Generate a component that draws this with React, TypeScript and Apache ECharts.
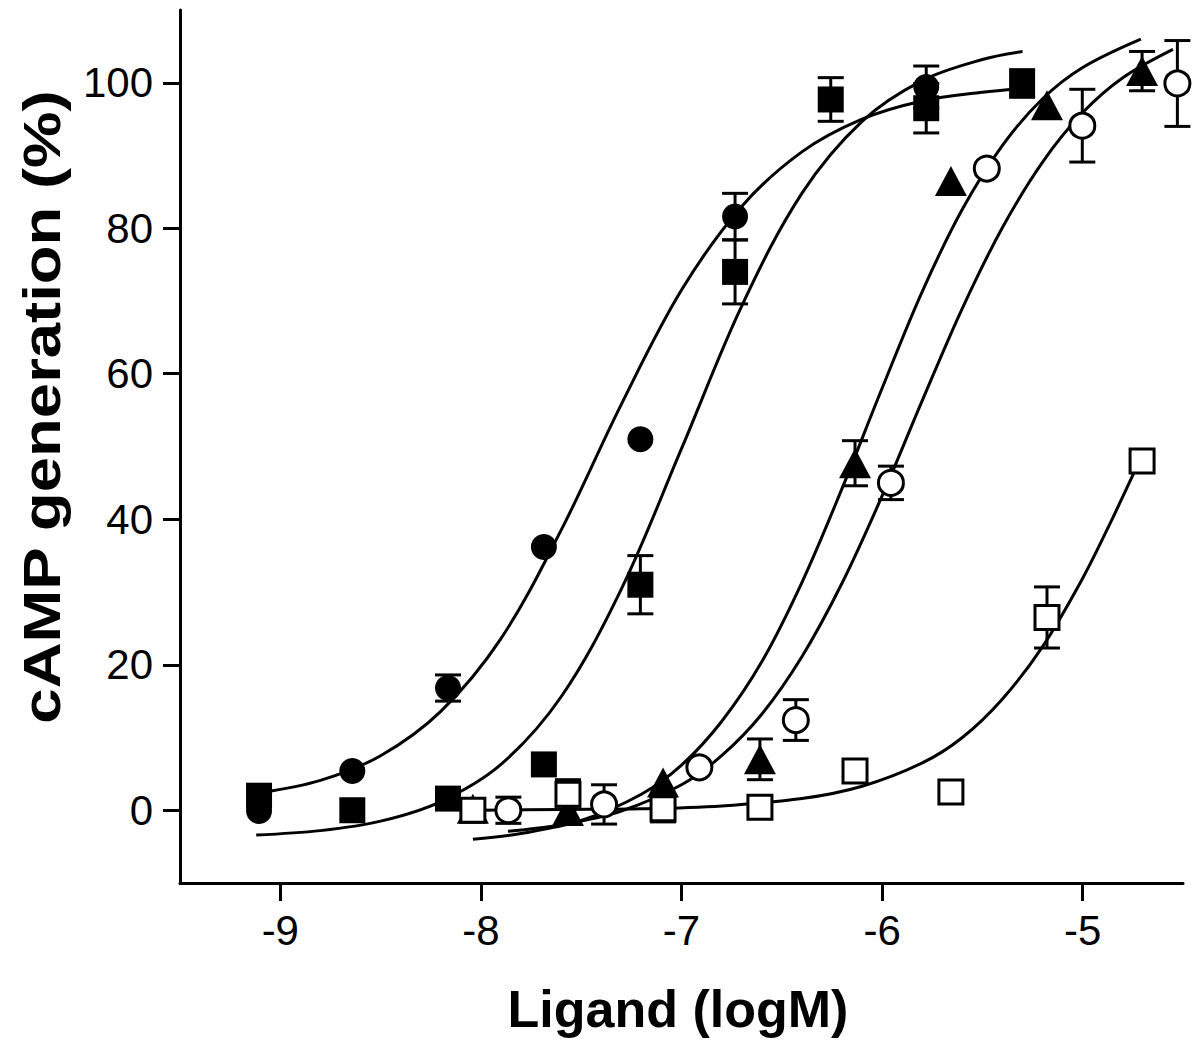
import React, { useEffect, useRef } from "react";
import * as echarts from "echarts";

// ---- Axis ticks ----
const xTicks = [-9, -8, -7, -6, -5];
const yTicks = [0, 20, 40, 60, 80, 100];

// ---- Data points (x: log M, y: % cAMP, err: SEM) ----
const filledCircleX = [-9.106, -8.641, -8.164, -7.686, -7.205, -6.733, -5.78];
const filledCircleY = [-0.1, 5.4, 16.8, 36.2, 51.0, 81.6, 99.4];
const filledCircleErr = [0, 0, 1.8, 0, 0, 3.2, 2.9];

const filledSquareX = [-9.106, -8.641, -8.164, -7.686, -7.205, -6.733, -6.256, -5.78, -5.302];
const filledSquareY = [2.0, 0.0, 1.6, 6.3, 31.0, 74.0, 97.7, 96.5, 99.9];
const filledSquareErr = [0, 0, 0, 0, 4.0, 4.4, 3.0, 3.4, 1.9];

const triangleX = [-8.04, -7.566, -7.092, -6.609, -6.135, -5.657, -5.178, -4.704];
const triangleY = [0.2, -0.1, 3.8, 7.0, 47.7, 86.5, 96.9, 101.6];
const triangleErr = [0, 0, 0, 2.8, 3.1, 0, 0, 2.7];

const openCircleX = [-7.863, -7.386, -6.911, -6.43, -5.956, -5.478, -5.002, -4.528];
const openCircleY = [0.0, 0.8, 5.9, 12.4, 45.0, 88.2, 94.1, 99.9];
const openCircleErr = [1.8, 2.7, 0, 2.8, 2.3, 0, 5.0, 5.9];

const openSquareX = [-8.04, -7.566, -7.092, -6.609, -6.135, -5.657, -5.178, -4.704];
const openSquareY = [0.0, 2.2, 0.2, 0.4, 5.4, 2.5, 26.5, 48.0];
const openSquareErr = [0, 2.0, 1.8, 0, 0, 0, 4.2, 0];

// ---- Fitted curves ----
const circleFitX = [-9.1, -8.8, -8.5, -8.2, -7.9, -7.6, -7.3, -7.0, -6.7, -6.4, -6.1, -5.8, -5.5, -5.3];
const circleFitY = [2.4, 4.1, 7.5, 13.6, 23.6, 38.5, 55.8, 71.5, 83.0, 90.5, 95.0, 97.5, 98.7, 99.2];

const squareFitX = [-9.12, -8.8, -8.5, -8.2, -7.9, -7.6, -7.3, -7.0, -6.7, -6.4, -6.1, -5.8, -5.5, -5.3];
const squareFitY = [-3.4, -2.8, -1.5, 1.2, 6.3, 15.6, 30.4, 49.7, 69.3, 84.8, 94.7, 100.3, 103.2, 104.3];

const triangleFitX = [-8.04, -7.8, -7.5, -7.2, -7.0, -6.8, -6.6, -6.4, -6.2, -6.0, -5.8, -5.6, -5.4, -5.2, -5.0, -4.71];
const triangleFitY = [-4.0, -3.2, -1.4, 2.2, 6.2, 12.2, 20.4, 31.3, 44.2, 58.0, 71.3, 82.6, 91.4, 97.8, 102.1, 106.0];

const openCircleFitX = [-7.865, -7.6, -7.3, -7.0, -6.8, -6.6, -6.4, -6.2, -6.0, -5.8, -5.6, -5.4, -5.2, -5.0, -4.8, -4.55];
const openCircleFitY = [-2.9, -2.0, -0.1, 3.5, 7.5, 13.2, 21.1, 31.2, 43.2, 56.3, 69.0, 80.1, 89.1, 95.9, 100.7, 104.6];

const openSquareFitX = [-8.04, -7.6, -7.2, -6.8, -6.4, -6.1, -5.8, -5.6, -5.4, -5.2, -5.0, -4.85, -4.704];
const openSquareFitY = [0.0, 0.1, 0.2, 0.6, 1.6, 3.3, 6.5, 10.0, 15.3, 22.5, 31.9, 40.2, 48.8];

const FONT = '"Liberation Sans", Arial, Helvetica, sans-serif';

const zip2 = (xs: number[], ys: number[]) => xs.map((x, i) => [x, ys[i]]);
const zip3 = (xs: number[], ys: number[], es: number[]) =>
  xs.map((x, i) => [x, ys[i], es[i]]).filter((d) => d[2] > 0);

function fitSeries(xs: number[], ys: number[]) {
  return {
    type: "line",
    data: zip2(xs, ys),
    smooth: 0.35,
    showSymbol: false,
    symbol: "none",
    silent: true,
    lineStyle: { color: "#000", width: 3 },
    z: 1,
  };
}

function errorSeries(xs: number[], ys: number[], es: number[]) {
  return {
    type: "custom",
    data: zip3(xs, ys, es),
    encode: { x: 0, y: 1 },
    z: 2,
    silent: true,
    renderItem: (params: any, api: any) => {
      const x = api.value(0);
      const y = api.value(1);
      const e = api.value(2);
      const top = api.coord([x, y + e]);
      const bot = api.coord([x, y - e]);
      const hw = 13;
      const style = { stroke: "#000", lineWidth: 3 };
      return {
        type: "group",
        children: [
          { type: "line", shape: { x1: top[0], y1: top[1], x2: bot[0], y2: bot[1] }, style },
          { type: "line", shape: { x1: top[0] - hw, y1: top[1], x2: top[0] + hw, y2: top[1] }, style },
          { type: "line", shape: { x1: bot[0] - hw, y1: bot[1], x2: bot[0] + hw, y2: bot[1] }, style },
        ],
      };
    },
  };
}

function scatterSeries(xs: number[], ys: number[], symbol: string, size: any, filled: boolean) {
  return {
    type: "scatter",
    data: zip2(xs, ys),
    symbol,
    symbolSize: size,
    z: 3,
    itemStyle: filled
      ? { color: "#000", borderWidth: 0, opacity: 1 }
      : { color: "#fff", borderColor: "#000", borderWidth: 3, opacity: 1 },
  };
}

export default function App() {
  const ref = useRef<HTMLDivElement>(null);
  useEffect(() => {
    const chart = echarts.init(ref.current!, null, { renderer: "svg" });
    const option: any = {
      animation: false,
      backgroundColor: "#fff",
      grid: { left: 180, right: 17, top: 10, bottom: 168, containLabel: false, outerBoundsMode: "none" },
      xAxis: {
        type: "value",
        min: -9.5,
        max: -4.5,
        axisLine: { show: true, onZero: false, lineStyle: { color: "#000", width: 3 } },
        axisTick: { show: true, customValues: xTicks, length: 18, lineStyle: { color: "#000", width: 3 } },
        axisLabel: { customValues: xTicks, fontSize: 42, color: "#000", fontFamily: FONT, margin: 26 },
        splitLine: { show: false },
      },
      yAxis: {
        type: "value",
        min: -10,
        max: 110,
        axisLine: { show: true, onZero: false, lineStyle: { color: "#000", width: 3 } },
        axisTick: { show: true, customValues: yTicks, length: 17, lineStyle: { color: "#000", width: 3 } },
        axisLabel: { customValues: yTicks, fontSize: 42, color: "#000", fontFamily: FONT, margin: 27 },
        splitLine: { show: false },
      },
      graphic: [
        {
          type: "text",
          x: 678,
          y: 1009,
          style: {
            text: "Ligand (logM)",
            fontSize: 52,
            fontWeight: "bold",
            fontFamily: FONT,
            fill: "#000",
            align: "center",
            verticalAlign: "middle",
          },
        },
        {
          type: "text",
          x: 42,
          y: 407,
          rotation: Math.PI / 2,
          scaleX: 1.22,
          style: {
            text: "cAMP generation (%)",
            fontSize: 52,
            fontWeight: "bold",
            fontFamily: FONT,
            fill: "#000",
            align: "center",
            verticalAlign: "middle",
          },
        },
      ],
      series: [
        fitSeries(circleFitX, circleFitY),
        fitSeries(squareFitX, squareFitY),
        fitSeries(triangleFitX, triangleFitY),
        fitSeries(openCircleFitX, openCircleFitY),
        fitSeries(openSquareFitX, openSquareFitY),
        errorSeries(filledCircleX, filledCircleY, filledCircleErr),
        errorSeries(filledSquareX, filledSquareY, filledSquareErr),
        errorSeries(triangleX, triangleY, triangleErr),
        errorSeries(openCircleX, openCircleY, openCircleErr),
        errorSeries(openSquareX, openSquareY, openSquareErr),
        scatterSeries(filledCircleX, filledCircleY, "circle", 26, true),
        scatterSeries(filledSquareX, filledSquareY, "rect", 26, true),
        scatterSeries(triangleX, triangleY, "triangle", [32, 30], true),
        scatterSeries(openCircleX, openCircleY, "circle", 25, false),
        scatterSeries(openSquareX, openSquareY, "rect", 24, false),
      ],
    };
    chart.setOption(option);
    return () => chart.dispose();
  }, []);
  return (
    <div
      ref={ref}
      style={{ position: "fixed", left: 0, top: 0, width: 1200, height: 1051, background: "#fff" }}
    />
  );
}
